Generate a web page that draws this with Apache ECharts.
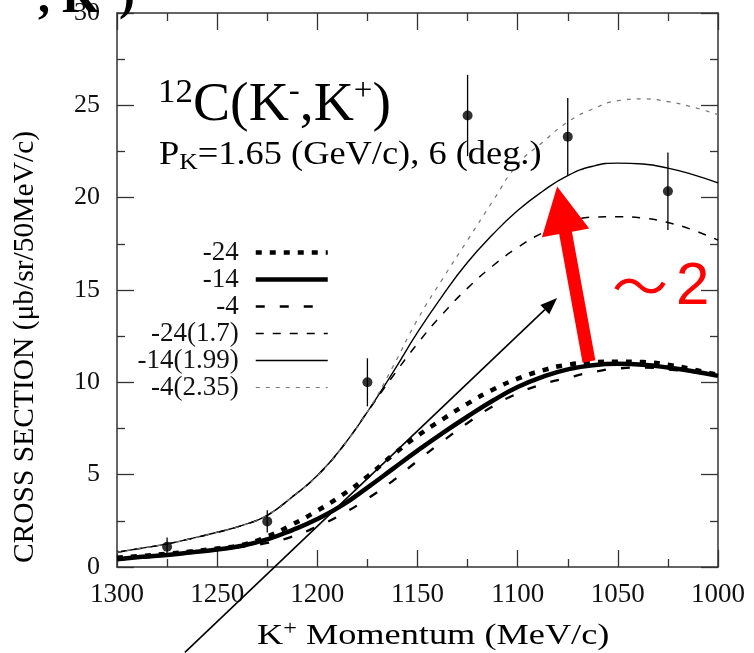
<!DOCTYPE html>
<html><head><meta charset="utf-8">
<script src="https://cdn.jsdelivr.net/npm/echarts@6/dist/echarts.min.js"></script>
<style>html,body{margin:0;padding:0;background:#fff;}#c{width:754px;height:653px;}</style>
</head><body><div id="c"></div>
<script>
// ---- data ----
const momentum = [1300,1287.5,1275,1262.5,1250,1237.5,1225,1212.5,1200,1187.5,1175,1162.5,1150,1137.5,1125,1112.5,1100,1087.5,1075,1062.5,1050,1037.5,1025,1012.5,1000];
const thick24 = [0.5,0.6,0.72,0.85,1.0,1.2,1.65,2.3,3.05,3.9,4.9,6.05,7.1,8.0,8.85,9.6,10.2,10.65,10.95,11.08,11.12,11.1,10.95,10.7,10.4];
const thick14 = [0.42,0.55,0.65,0.8,0.95,1.15,1.5,2.0,2.6,3.35,4.3,5.3,6.3,7.25,8.15,9.0,9.75,10.3,10.7,10.93,11.0,10.95,10.8,10.6,10.35];
const thick4  = [0.4,0.5,0.62,0.76,0.92,1.1,1.3,1.65,2.2,2.87,3.7,4.65,5.75,6.8,7.8,8.7,9.4,9.9,10.25,10.55,10.75,10.8,10.7,10.55,10.35];
const thinCommon = [0.8,1.02,1.25,1.55,1.88,2.25,2.8,3.8,4.95,6.5,8.4];
const thin24Tail = [10.3,12.1,13.7,15.1,16.3,17.3,18.1,18.65,18.95,18.97,18.9,18.65,18.25,17.7];
const thin14Tail = [10.5,12.7,14.7,16.5,18.0,19.3,20.35,21.2,21.7,21.87,21.82,21.6,21.25,20.8];
const thin4Tail  = [10.8,13.4,15.6,17.7,19.8,21.8,23.0,24.1,24.8,25.25,25.35,25.2,24.9,24.5];
const seriesNames = ['-24','-14','-4','-24(1.7)','-14(1.99)','-4(2.35)'];
const expX   = [1275,1225,1175,1125,1075,1025];
const expY   = [1.1,2.47,10.0,24.45,23.3,20.35];
const expErr = [0.5,0.6,1.3,2.2,2.1,2.1];
const xTicks = {min:1000, max:1300, step:50};
const yTicks = {min:0, max:30, step:5};
const redArrow = {from:[1064.4,11.13], to:[1080.3,20.6]};
const blackArrow = {from:[1266.1,-4.62], to:[1080.3,14.57]};

const serif = 'Liberation Serif';
const chart = echarts.init(document.getElementById('c'));

const styles = [
  {w:4.5, t:[6,8], c:'#000', z:3},
  {w:4.5, t:'solid', c:'#000', z:3},
  {w:2.3, t:[9,15], c:'#000', z:3},
  {w:1.5, t:[8,9], c:'#000', z:2},
  {w:1.4, t:'solid', c:'#000', z:2},
  {w:1.2, t:[4,6], c:'#777', z:2}
];
function curve(i, ys) {
  const s = styles[i];
  return {name:seriesNames[i], type:'line', data: momentum.map((m,k)=>[m, ys[k]]), symbol:'none', showSymbol:false,
    smooth:0.5, lineStyle:{width:s.w, type:s.t, color:s.c}, itemStyle:{color:s.c}, z:s.z, silent:true};
}
const axisCol = '#333';
function xAx(pos, labels) {
  return {type:'value', min:xTicks.min, max:xTicks.max, interval:xTicks.step, inverse:true, position:pos,
    axisLine:{onZero:false, lineStyle:{color:axisCol, width:1.5}},
    axisTick:{inside:true, length:17, lineStyle:{color:axisCol, width:1.3}},
    minorTick:{show:true, splitNumber:2, length:8, lineStyle:{color:axisCol, width:1.3}},
    splitLine:{show:false}, minorSplitLine:{show:false},
    axisLabel:{show:labels, color:'#111', fontFamily:serif, fontSize:27, margin:14, formatter:function(v){return String(v);}}};
}
function yAx(pos, labels) {
  return {type:'value', min:yTicks.min, max:yTicks.max, interval:yTicks.step, position:pos,
    axisLine:{show:true, onZero:false, lineStyle:{color:axisCol, width:1.5}},
    axisTick:{show:true, inside:true, length:17, lineStyle:{color:axisCol, width:1.3}},
    minorTick:{show:true, splitNumber:2, length:8, lineStyle:{color:axisCol, width:1.3}},
    splitLine:{show:false}, minorSplitLine:{show:false},
    axisLabel:{show:labels, color:'#111', fontFamily:serif, fontSize:26, margin:17}};
}

const option = {
  animation:false,
  backgroundColor:'#fff',
  grid:{left:117, right:36, top:9.5, bottom:86},
  xAxis:[xAx('bottom', true), xAx('top', false)],
  yAxis:[yAx('left', true), yAx('right', false)],
  legend:{data:seriesNames.map((n,i)=>({name:n, lineStyle:{width:styles[i].w}})),
    orient:'vertical', align:'right', right:424, top:239, padding:0,
    itemWidth:72, itemHeight:14, itemGap:0, selectedMode:false, itemStyle:{opacity:0},
    textStyle:{fontFamily:serif, fontSize:27, color:'#111', lineHeight:26, padding:[0,12,0,0]}},
  series:[
    curve(0, thick24),
    curve(1, thick14),
    curve(2, thick4),
    curve(3, thinCommon.concat(thin24Tail)),
    curve(4, thinCommon.concat(thin14Tail)),
    curve(5, thinCommon.concat(thin4Tail)),
    {type:'custom', z:5, silent:true, data: expX.map((x,i)=>[x, expY[i], expErr[i]]),
      renderItem:function(params, api){
        const x=api.value(0), y=api.value(1), e=api.value(2);
        const p1=api.coord([x,y-e]), p2=api.coord([x,y+e]);
        return {type:'line', shape:{x1:p1[0],y1:p1[1],x2:p2[0],y2:p2[1]}, style:{stroke:'#000', lineWidth:1.3}};
      }},
    {type:'scatter', z:6, silent:true, symbolSize:10, itemStyle:{color:'#000'}, data: expX.map((x,i)=>[x, expY[i]])}
  ]
};
chart.setOption(option);

function arrowGraphics() {
  const els = [];
  const T = chart.convertToPixel({gridIndex:0}, redArrow.from);
  const P = chart.convertToPixel({gridIndex:0}, redArrow.to);
  let dx=P[0]-T[0], dy=P[1]-T[1], L=Math.hypot(dx,dy); dx/=L; dy/=L;
  const nx=-dy, ny=dx, hl=47, hw=24, sw=6.5;
  const B=[P[0]-dx*hl, P[1]-dy*hl];
  els.push({type:'polygon', z:20, shape:{points:[
    [T[0]+nx*sw, T[1]+ny*sw],[B[0]+nx*sw, B[1]+ny*sw],[B[0]+nx*hw, B[1]+ny*hw],P,
    [B[0]-nx*hw, B[1]-ny*hw],[B[0]-nx*sw, B[1]-ny*sw],[T[0]-nx*sw, T[1]-ny*sw]]}, style:{fill:'#ff0000'}});
  const S = chart.convertToPixel({gridIndex:0}, blackArrow.from);
  const Q = chart.convertToPixel({gridIndex:0}, blackArrow.to);
  let ex=Q[0]-S[0], ey=Q[1]-S[1], M=Math.hypot(ex,ey); ex/=M; ey/=M;
  const mx=-ey, my=ex, bl=17, bw=6.5;
  const C=[Q[0]-ex*bl, Q[1]-ey*bl];
  els.push({type:'line', z:19, shape:{x1:S[0],y1:S[1],x2:C[0],y2:C[1]}, style:{stroke:'#000', lineWidth:1.6}});
  els.push({type:'polygon', z:19, shape:{points:[Q,[C[0]+mx*bw,C[1]+my*bw],[C[0]-mx*bw,C[1]-my*bw]]}, style:{fill:'#000'}});
  return els;
}

const texts = [
  {type:'text', z:30, x:38, y:0, style:{text:', K', font:'bold 48px "Liberation Serif"', fill:'#000', textVerticalAlign:'middle'}},
  {type:'text', z:30, x:119, y:-3, style:{text:')', font:'bold 48px "Liberation Serif"', fill:'#000', textVerticalAlign:'middle'}},
  {type:'text', z:30, x:158, y:76, scaleX:1.03, style:{text:'{s|12}{m|C(K}{u|-}{m|,K}{u|+}{m|)}', textVerticalAlign:'top',
    rich:{s:{fontFamily:serif, fontSize:34, lineHeight:22, verticalAlign:'top', fill:'#000'},
          m:{fontFamily:serif, fontSize:54, lineHeight:60, verticalAlign:'middle', fill:'#000'},
          u:{fontFamily:serif, fontSize:32, lineHeight:26, verticalAlign:'top', fill:'#000'}}}},
  {type:'text', z:30, x:159, y:135, scaleX:1.07, style:{text:'{p|P}{k|K}{p|=1.65 (GeV/c), 6 (deg.)}', textVerticalAlign:'top',
    rich:{p:{fontFamily:serif, fontSize:34, lineHeight:40, verticalAlign:'middle', fill:'#000'},
          k:{fontFamily:serif, fontSize:24, lineHeight:18, verticalAlign:'bottom', fill:'#000'}}}},
  {type:'text', z:30, x:612, y:286, style:{text:'～', font:'56px "Noto Sans CJK JP"', fill:'#ff0000', textVerticalAlign:'middle'}},
  {type:'text', z:30, x:676, y:287, style:{text:'2', font:'60px "Liberation Sans"', fill:'#ff0000', textVerticalAlign:'middle'}},
  {type:'text', z:30, x:257, y:636, scaleX:1.21, style:{text:'{a|K}{b|+}{a| Momentum (MeV/c)}', textVerticalAlign:'middle',
    rich:{a:{fontFamily:serif, fontSize:30, lineHeight:32, verticalAlign:'middle', fill:'#000'},
          b:{fontFamily:serif, fontSize:20, lineHeight:22, verticalAlign:'top', fill:'#000'}}}},
  {type:'text', z:30, x:25, y:347, rotation:Math.PI/2, style:{text:'CROSS SECTION (μb/sr/50MeV/c)', font:'29.5px "Liberation Serif"', fill:'#000', textAlign:'center', textVerticalAlign:'middle'}}
];

chart.setOption({graphic: texts.concat(arrowGraphics())});
</script>
</body></html>
